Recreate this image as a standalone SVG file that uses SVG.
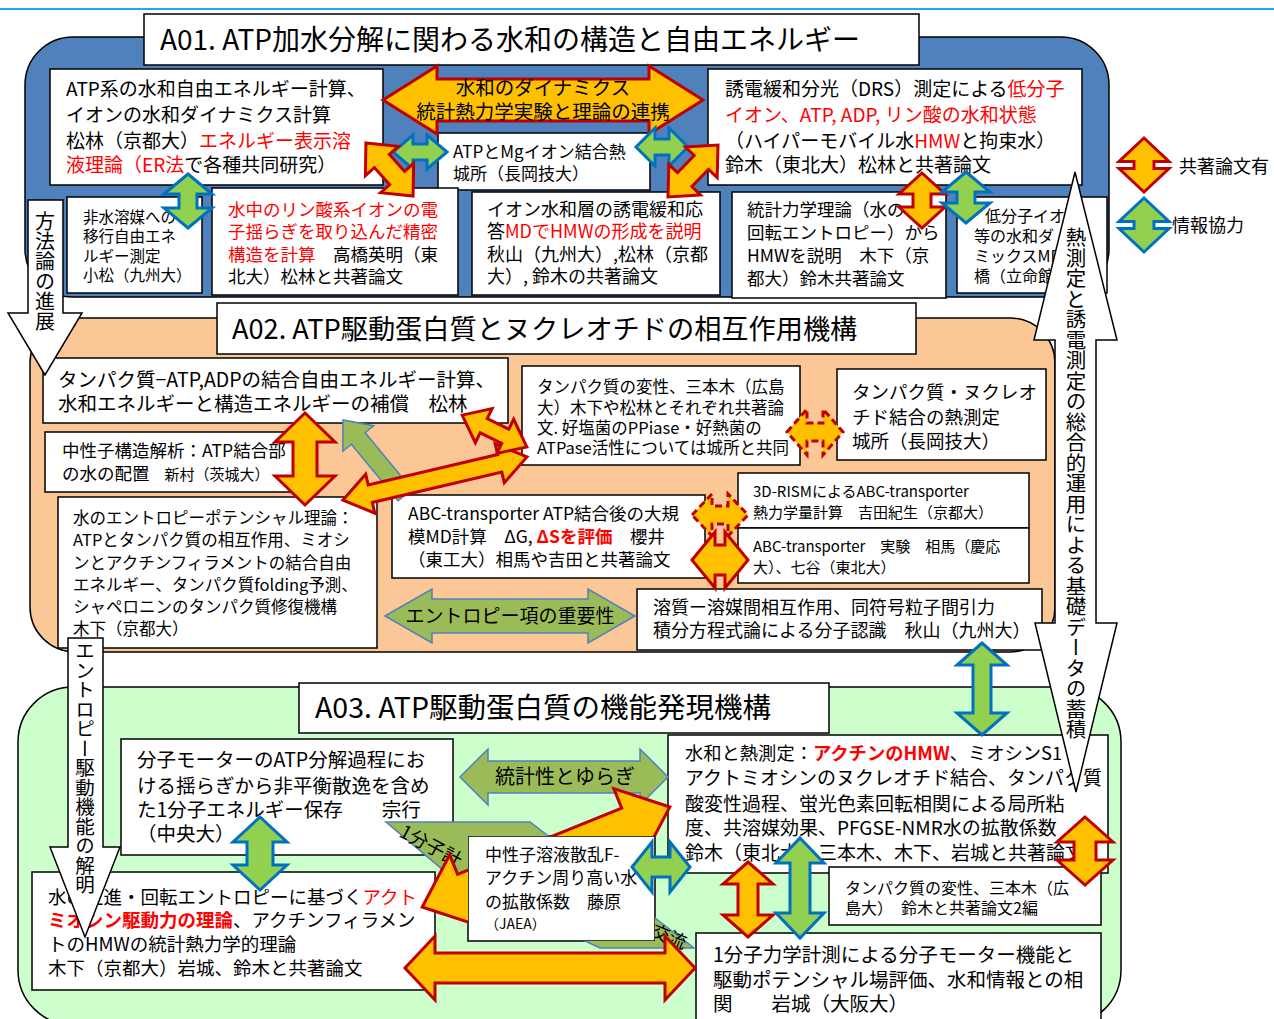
<svg xmlns="http://www.w3.org/2000/svg" width="1274" height="1019" viewBox="0 0 1274 1019">
<defs>
<style>
.t{font-family:"Noto Sans CJK JP","Noto Sans CJK SC",sans-serif;fill:#000}
.r{fill:#ff0000}
.rb{fill:#ff0000;font-weight:bold}
.bx{fill:#fff;stroke:#000;stroke-width:1.5}
.or{fill:#ffc000;stroke:#c00000;stroke-width:3;stroke-linejoin:miter}
.ord{fill:#ffc000;stroke:#c00000;stroke-width:3;stroke-dasharray:7 4}
.gb{fill:#92d050;stroke:#0070c0;stroke-width:3}
.ge{fill:#9bbb59;stroke:#4f81bd;stroke-width:1.5}
.wa{fill:#fff;stroke:#000;stroke-width:1.5}
.v{writing-mode:vertical-rl}
</style>
<clipPath id="notO"><path clip-rule="evenodd" d="M0,0H1274V1019H0Z M468,836H655V941H468Z"/></clipPath>
</defs>
<rect width="1274" height="1019" fill="#fff"/>
<line x1="0" y1="9" x2="1274" y2="9" stroke="#29a8e0" stroke-width="2"/>

<!-- regions -->
<g id="region-a01"><rect x="25" y="37" width="1084" height="260" rx="48" fill="#4f81bd" stroke="#000" stroke-width="1.5"/></g>
<g id="region-a02"><rect x="30" y="318" width="1025" height="334" rx="45" fill="#fbc797" stroke="#000" stroke-width="1.5"/></g>
<g id="region-a03"><rect x="18" y="687" width="1103" height="338" rx="55" fill="#ccffcc" stroke="#000" stroke-width="1.5"/></g>

<!-- A01 -->
<g id="title-a01"><rect class="bx" x="144" y="14" width="775" height="51"/>
<text class="t" x="160" y="50" font-size="28">A01. ATP加水分解に関わる水和の構造と自由エネルギー</text></g>

<g id="n-atp-calc"><rect class="bx" x="50" y="69" width="333" height="116"/>
<text class="t" font-size="19"><tspan x="66" y="96">ATP系の水和自由エネルギー計算、</tspan><tspan x="66" y="122">イオンの水和ダイナミクス計算</tspan><tspan x="66" y="148">松林（京都大）<tspan class="r">エネルギー表示溶</tspan></tspan><tspan x="66" y="172"><tspan class="r">液理論（ER法</tspan>で各種共同研究）</tspan></text></g>

<g id="n-atp-mg"><rect class="bx" x="438" y="133" width="212" height="57"/>
<text class="t" font-size="17"><tspan x="453" y="158">ATPとMgイオン結合熱</tspan><tspan x="453" y="180">城所（長岡技大）</tspan></text></g>

<g id="n-drs"><rect class="bx" x="708" y="69" width="374" height="116"/>
<text class="t" font-size="19"><tspan x="725" y="96">誘電緩和分光（DRS）測定による<tspan class="r">低分子</tspan></tspan><tspan x="725" y="122" class="r">イオン、ATP, ADP, リン酸の水和状態</tspan><tspan x="725" y="148">（ハイパーモバイル水<tspan class="r">HMW</tspan>と拘束水）</tspan><tspan x="725" y="172">鈴木（東北大）松林と共著論文</tspan></text></g>

<g id="n-nonaq"><rect class="bx" x="67" y="197" width="135" height="96"/>
<text class="t" font-size="15.5"><tspan x="83" y="223">非水溶媒への</tspan><tspan x="83" y="242">移行自由エネ</tspan><tspan x="83" y="262">ルギー測定</tspan><tspan x="83" y="281">小松（九州大）</tspan></text></g>

<g id="n-phosphate"><rect class="bx" x="212" y="188" width="246" height="107"/>
<text class="t" font-size="17.5"><tspan x="228" y="216" class="r">水中のリン酸系イオンの電</tspan><tspan x="228" y="238" class="r">子揺らぎを取り込んだ精密</tspan><tspan x="228" y="261"><tspan class="r">構造を計算</tspan>　高橋英明（東</tspan><tspan x="228" y="283">北大）松林と共著論文</tspan></text></g>

<g id="n-ion-md"><rect class="bx" x="472" y="192" width="248" height="103"/>
<text class="t" font-size="18"><tspan x="487" y="216">イオン水和層の誘電緩和応</tspan><tspan x="487" y="238">答<tspan class="r">MDでHMWの形成を説明</tspan></tspan><tspan x="487" y="261">秋山（九州大）,松林（京都</tspan><tspan x="487" y="283">大）, 鈴木の共著論文</tspan></text></g>

<g id="n-stat-theory"><rect class="bx" x="732" y="192" width="214" height="106"/>
<text class="t" font-size="17.5"><tspan x="747" y="216">統計力学理論（水の</tspan><tspan x="747" y="239">回転エントロピー）から</tspan><tspan x="747" y="262">HMWを説明　木下（京</tspan><tspan x="747" y="285">都大）鈴木共著論文</tspan></text></g>

<g id="n-lowmol-md"><rect class="bx" x="957" y="197" width="150" height="96"/>
<text class="t" font-size="16"><tspan x="985" y="222">低分子イオ</tspan><tspan x="974" y="242">等の水和ダ</tspan><tspan x="974" y="262">ミックスMD</tspan><tspan x="974" y="282">橋（立命館</tspan></text></g>

<!-- legend -->
<g id="legend">
<polygon class="or" transform="translate(1144,165) rotate(90)" points="-27,0 -3.5,-25 -3.5,-10 3.5,-10 3.5,-25 27,0 3.5,25 3.5,10 -3.5,10 -3.5,25"/>
<text class="t" x="1179" y="173" font-size="18">共著論文有</text>
<polygon class="gb" transform="translate(1144,225) rotate(90)" points="-27,0 -3.5,-25 -3.5,-10 3.5,-10 3.5,-25 27,0 3.5,25 3.5,10 -3.5,10 -3.5,25"/>
<text class="t" x="1172" y="232" font-size="18">情報協力</text>
</g>

<!-- A02 -->
<g id="title-a02"><rect class="bx" x="217" y="303" width="699" height="51"/>
<text class="t" x="232" y="339" font-size="27.2">A02. ATP駆動蛋白質とヌクレオチドの相互作用機構</text></g>

<g id="n-protein-atp"><rect class="bx" x="43" y="358" width="465" height="65"/>
<text class="t" font-size="19.5"><tspan x="58" y="387">タンパク質−ATP,ADPの結合自由エネルギー計算、</tspan><tspan x="58" y="411">水和エネルギーと構造エネルギーの補償　松林</tspan></text></g>

<g id="n-neutron"><rect class="bx" x="45" y="432" width="255" height="60"/>
<text class="t" font-size="17.5"><tspan x="62" y="457">中性子構造解析：ATP結合部</tspan><tspan x="62" y="480">の水の配置<tspan font-size="15">　新村（茨城大）</tspan></tspan></text></g>

<g id="n-entropy-theory"><rect class="bx" x="58" y="497" width="319" height="151"/>
<text class="t" font-size="16.5"><tspan x="73" y="524">水のエントロピーポテンシャル理論：</tspan><tspan x="73" y="546">ATPとタンパク質の相互作用、ミオシ</tspan><tspan x="73" y="569">ンとアクチンフィラメントの結合自由</tspan><tspan x="73" y="591">エネルギー、タンパク質folding予測、</tspan><tspan x="73" y="613">シャペロニンのタンパク質修復機構</tspan><tspan x="73" y="635">木下（京都大）</tspan></text></g>

<g id="n-denature"><rect class="bx" x="522" y="366" width="278" height="99"/>
<text class="t" font-size="16.5"><tspan x="537" y="393">タンパク質の変性、三本木（広島</tspan><tspan x="537" y="414">大）木下や松林とそれぞれ共著論</tspan><tspan x="537" y="434">文. 好塩菌のPPiase・好熱菌の</tspan><tspan x="537" y="454">ATPase活性については城所と共同</tspan></text></g>

<g id="n-nucleotide-heat"><rect class="bx" x="837" y="369" width="209" height="91"/>
<text class="t" font-size="18.5"><tspan x="852" y="399">タンパク質・ヌクレオ</tspan><tspan x="852" y="424">チド結合の熱測定</tspan><tspan x="852" y="448">城所（長岡技大）</tspan></text></g>

<g id="n-3drism"><rect class="bx" x="738" y="473" width="291" height="55"/>
<text class="t" font-size="15"><tspan x="753" y="497">3D-RISMによるABC-transporter</tspan><tspan x="753" y="518">熱力学量計算　吉田紀生（京都大）</tspan></text></g>

<g id="n-abc-exp"><rect class="bx" x="738" y="528" width="291" height="55"/>
<text class="t" font-size="15"><tspan x="753" y="552">ABC-transporter　実験　相馬（慶応</tspan><tspan x="753" y="573">大）、七谷（東北大）</tspan></text></g>

<g id="n-abc-md"><rect class="bx" x="392" y="495" width="313" height="83"/>
<text class="t" font-size="17.5"><tspan x="408" y="520">ABC-transporter ATP結合後の大規</tspan><tspan x="408" y="543">模MD計算　ΔG, <tspan class="rb">ΔSを評価</tspan>　櫻井</tspan><tspan x="408" y="566">（東工大）相馬や吉田と共著論文</tspan></text></g>

<g id="n-solute-solvent"><rect class="bx" x="637" y="589" width="405" height="61"/>
<text class="t" font-size="18"><tspan x="653" y="614">溶質ー溶媒間相互作用、同符号粒子間引力</tspan><tspan x="653" y="637">積分方程式論による分子認識　秋山（九州大）</tspan></text></g>

<!-- A03 -->
<g id="title-a03"><rect class="bx" x="299" y="683" width="530" height="50"/>
<text class="t" x="315" y="718" font-size="28.5">A03. ATP駆動蛋白質の機能発現機構</text></g>

<g id="n-motor-energy"><rect class="bx" x="121" y="739" width="332" height="116"/>
<text class="t" font-size="19.5"><tspan x="137" y="767">分子モーターのATP分解過程にお</tspan><tspan x="137" y="793">ける揺らぎから非平衡散逸を含め</tspan><tspan x="137" y="817">た1分子エネルギー保存　　宗行</tspan><tspan x="137" y="841">（中央大）</tspan></text></g>

<g id="n-actomyosin-theory"><rect class="bx" x="32" y="872" width="403" height="118"/>
<text class="t" font-size="18.5"><tspan x="48" y="904">水の並進・回転エントロピーに基づく<tspan class="r">アクト</tspan></tspan><tspan x="48" y="927"><tspan class="rb">ミオシン駆動力の理論</tspan>、アクチンフィラメン</tspan><tspan x="48" y="951">トのHMWの統計熱力学的理論</tspan><tspan x="48" y="975">木下（京都大）岩城、鈴木と共著論文</tspan></text></g>

<g id="n-hydration-heat"><rect class="bx" x="668" y="735" width="440" height="138"/>
<text class="t" font-size="19"><tspan x="685" y="760" font-size="18.3">水和と熱測定：<tspan class="rb">アクチンのHMW</tspan>、ミオシンS1</tspan><tspan x="685" y="785">アクトミオシンのヌクレオチド結合、タンパク質</tspan><tspan x="685" y="811">酸変性過程、蛍光色素回転相関による局所粘</tspan><tspan x="685" y="835">度、共溶媒効果、PFGSE-NMR水の拡散係数</tspan><tspan x="685" y="860">鈴木（東北大）三本木、木下、岩城と共著論文</tspan></text></g>

<g id="n-denature2"><rect class="bx" x="829" y="867" width="272" height="58"/>
<text class="t" font-size="16"><tspan x="845" y="894">タンパク質の変性、三本木（広</tspan><tspan x="845" y="914">島大）　鈴木と共著論文2編</tspan></text></g>

<g id="n-single-molecule"><rect class="bx" x="696" y="933" width="405" height="97"/>
<text class="t" font-size="19.5"><tspan x="713" y="962">1分子力学計測による分子モーター機能と</tspan><tspan x="713" y="987">駆動ポテンシャル場評価、水和情報との相</tspan><tspan x="713" y="1011">関　　岩城（大阪大）</tspan></text></g>

<g id="n-neutron-saxs"><rect class="bx" x="468" y="836" width="187" height="105"/>
<text class="t" font-size="17"><tspan x="485" y="861">中性子溶液散乱F-</tspan><tspan x="485" y="884">アクチン周り高い水</tspan><tspan x="485" y="908">の拡散係数　藤原</tspan><tspan x="485" y="929" font-size="14">（JAEA）</tspan></text></g>

<!-- connectors -->
<g id="connectors">
<!-- A01 -->
<polygon class="or" stroke-width="2.5" transform="translate(543,100)" points="-160,0 -106,-34 -106,-21 106,-21 106,-34 160,0 106,34 106,21 -106,21 -106,34"/>
<text class="t" font-size="19.5" text-anchor="middle"><tspan x="543" y="95">水和のダイナミクス</tspan><tspan x="543" y="119">統計熱力学実験と理論の連携</tspan></text>
<polygon class="gb" transform="translate(420,152)" points="-27,0 -7,-17 -7,-8 7,-8 7,-17 27,0 7,17 7,8 -7,8 -7,17"/>
<polygon class="gb" transform="translate(662,147)" points="-26,0 -7,-19 -7,-8 7,-8 7,-19 26,0 7,19 7,8 -7,8 -7,19"/>
<polygon class="gb" transform="translate(188,201) rotate(90)" points="-27,0 -7,-24 -7,-9 7,-9 7,-24 27,0 7,24 7,9 -7,9 -7,24"/>
<polygon class="or" transform="translate(389.5,169.5) rotate(48.4)" points="-35.5,0 -11.5,-22 -11.5,-10 11.5,-10 11.5,-22 35.5,0 11.5,22 11.5,10 -11.5,10 -11.5,22"/>
<polygon class="or" transform="translate(693,171) rotate(-46)" points="-36,0 -12,-22 -12,-10 12,-10 12,-22 36,0 12,22 12,10 -12,10 -12,22"/>
<polygon class="or" transform="translate(922,200.5) rotate(90)" points="-27.5,0 -6.5,-23 -6.5,-9 6.5,-9 6.5,-23 27.5,0 6.5,23 6.5,9 -6.5,9 -6.5,23"/>
<polygon class="gb" transform="translate(966,197.5) rotate(90)" points="-25.5,0 -5.5,-24 -5.5,-9 5.5,-9 5.5,-24 25.5,0 5.5,24 5.5,9 -5.5,9 -5.5,24"/>
<!-- A02 -->
<polygon class="ge" stroke-width="2.5" transform="translate(374,457.5) rotate(-129.6)" points="-48.7,-9 24.7,-9 24.7,-20 48.7,0 24.7,20 24.7,9 -48.7,9"/>
<polygon class="or" transform="translate(305,459) rotate(90)" points="-46,0 -17,-30 -17,-12 17,-12 17,-30 46,0 17,30 17,12 -17,12 -17,30"/>
<polygon class="or" transform="translate(435,478.5) rotate(-13.2)" points="-94.5,0 -66.5,-20 -66.5,-9 66.5,-9 66.5,-20 94.5,0 66.5,20 66.5,9 -66.5,9 -66.5,20"/>
<polygon class="or" transform="translate(494.5,431) rotate(26.2)" points="-36,0 -12,-19 -12,-8 12,-8 12,-19 36,0 12,19 12,8 -12,8 -12,19"/>
<polygon class="ord" transform="translate(815,432)" points="-28,0 -8,-23 -8,-9 8,-9 8,-23 28,0 8,23 8,9 -8,9 -8,23"/>
<polygon class="ord" transform="translate(720,515)" points="-28,0 -8,-21 -8,-9 8,-9 8,-21 28,0 8,21 8,9 -8,9 -8,21"/>
<polygon class="or" transform="translate(720,560)" points="-28,0 -5,-28 -5,-15 5,-15 5,-28 28,0 5,28 5,15 -5,15 -5,28"/>
<polygon class="ge" transform="translate(510,616)" points="-125,0 -78,-27 -78,-17 78,-17 78,-27 125,0 78,27 78,17 -78,17 -78,27"/>
<text class="t" x="510" y="623" font-size="19" text-anchor="middle">エントロピー項の重要性</text>
<polygon class="gb" transform="translate(982,689) rotate(90)" points="-46,0 -24,-25 -24,-9 24,-9 24,-25 46,0 24,25 24,9 -24,9 -24,25"/>
<!-- A03 -->
<g clip-path="url(#notO)">
<polygon class="ge" points="386,822 530,822 694,948 600,948 455,880"/>
<text class="t" font-size="19" transform="translate(398,836) rotate(28)">1分子計</text>
<text class="t" font-size="18" transform="translate(650,936) rotate(22)">交流</text>
</g>
<polygon class="ge" transform="translate(564,777)" points="-104,0 -76,-28 -76,-16 76,-16 76,-28 104,0 76,28 76,16 -76,16 -76,28"/>
<text class="t" x="565" y="784" font-size="20" text-anchor="middle">統計性とゆらぎ</text>
<g clip-path="url(#notO)">
<polygon class="or" transform="translate(546,857) rotate(-22)" points="-133.5,0 -88.5,-38 -88.5,-17 88.5,-17 88.5,-38 133.5,0 88.5,38 88.5,17 -88.5,17 -88.5,38"/>
</g>
<polygon class="or" transform="translate(550,968)" points="-145,0 -115,-32 -115,-15 115,-15 115,-32 145,0 115,32 115,15 -115,15 -115,32"/>
<polygon class="or" transform="translate(748,899.5) rotate(90)" points="-37.5,0 -15.5,-25 -15.5,-10 15.5,-10 15.5,-25 37.5,0 15.5,25 15.5,10 -15.5,10 -15.5,25"/>
<polygon class="gb" transform="translate(800,888) rotate(90)" points="-50,0 -25,-24 -25,-10 25,-10 25,-24 50,0 25,24 25,10 -25,10 -25,24"/>
<polygon class="gb" transform="translate(260,853.5) rotate(90)" points="-36.5,0 -11.5,-27 -11.5,-13 11.5,-13 11.5,-27 36.5,0 11.5,27 11.5,13 -11.5,13 -11.5,27"/>
<polygon class="gb" transform="translate(661,867)" points="-29,0 -9,-25 -9,-10 9,-10 9,-25 29,0 9,25 9,10 -9,10 -9,25"/>
<polygon class="or" transform="translate(1085,851) rotate(90)" points="-34,0 -9,-28 -9,-11 9,-11 9,-28 34,0 9,28 9,11 -9,11 -9,28"/>
<!-- white process arrows -->
<polygon class="wa" points="28,200 63,200 63,313 82,313 45,375 8,313 28,313"/>
<text class="t v" x="45" y="211" font-size="20">方法論の進展</text>
<polygon class="wa" points="68,638 103,638 103,847 120,847 85,937 50,847 68,847"/>
<text class="t v" x="85" y="641" font-size="19.5">エントロピー駆動機能の解明</text>
<polygon class="wa" points="1075,172 1117,340 1096,340 1096,623 1117,623 1076,792 1035,623 1055,623 1055,340 1034,340"/>
<text class="t v" x="1076" y="227" font-size="20.5">熱測定と誘電測定の総合的運用による基礎データの蓄積</text>
</g>
</svg>
